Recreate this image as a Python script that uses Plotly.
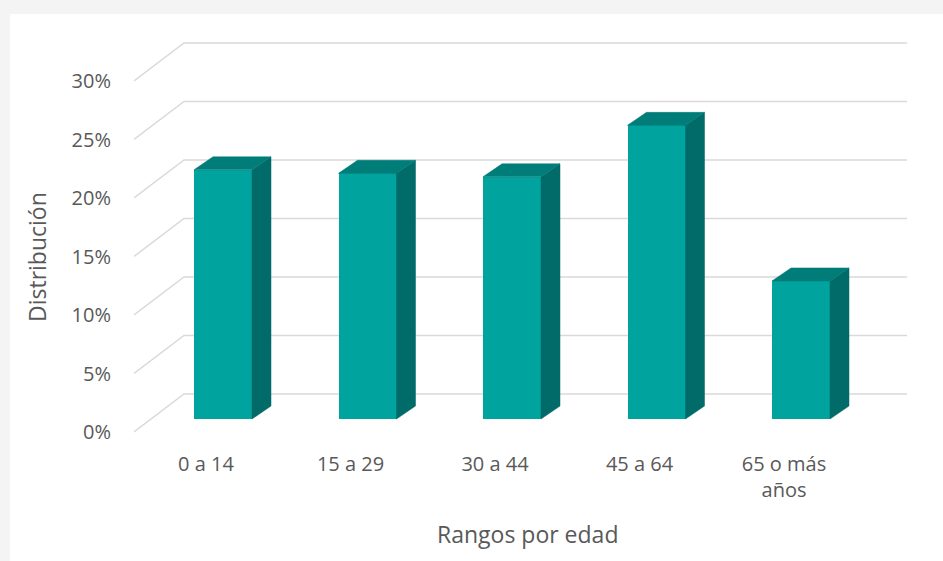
import plotly.graph_objects as go

# ---- data ----
categories = ["0 a 14", "15 a 29", "30 a 44", "45 a 64", "65 o más<br>años"]
values = [21.3, 21.0, 20.7, 25.1, 11.8]          # % distribution
y_ticks = [0, 5, 10, 15, 20, 25, 30]
y_tick_labels = ["0%", "5%", "10%", "15%", "20%", "25%", "30%"]

# ---- pixel calibration of the pseudo-3D layout ----
W, H = 943, 561
PLOT_L, PLOT_R, PLOT_T, PLOT_B = 134, 910, 40, 435
Y0_PX = 432.0            # front-plane 0% level
PX_PER_PCT = 11.7        # pixels per 1 %
X0_PX = 206.0            # front-plane centre of first category
PX_PER_CAT = 144.5       # pixels per category

def px_to_x(px):
    return (px - X0_PX) / PX_PER_CAT

def dxp(px):
    return px / PX_PER_CAT

def dyp(px):
    return px / PX_PER_PCT

x_range = [px_to_x(PLOT_L), px_to_x(PLOT_R)]
y_range = [(Y0_PX - PLOT_B) / PX_PER_PCT, (Y0_PX - PLOT_T) / PX_PER_PCT]

WALL_DX, WALL_DY = dxp(50), dyp(38)      # full floor depth
BAR_DX, BAR_DY = dxp(17), dyp(13)        # bar front plane offset
SIDE_DX, SIDE_DY = dxp(19), dyp(13)      # bar depth
BAR_W = dxp(58)

FRONT = "#00A39E"
SIDE = "#006B68"
TOP = "#007D79"
GRID = "#D9D9D9"
TEXT = "#595959"
FONT = "Open Sans"

fig = go.Figure()

# white chart panel on grey page
shapes = [dict(type="rect", xref="paper", yref="paper", layer="below",
               x0=(10 - PLOT_L) / (PLOT_R - PLOT_L), x1=(W + 5 - PLOT_L) / (PLOT_R - PLOT_L),
               y0=(PLOT_B - H - 5) / (PLOT_B - PLOT_T), y1=(PLOT_B - 14) / (PLOT_B - PLOT_T),
               fillcolor="white", line=dict(width=0))]

# gridlines (floor diagonal + back wall)
x_front = px_to_x(PLOT_L)
x_back = x_front + WALL_DX
x_right = px_to_x(907)
for v in y_ticks:
    shapes.append(dict(type="path", xref="x", yref="y", layer="below",
                       path=f"M {x_front},{v} L {x_back},{v + WALL_DY} L {x_right},{v + WALL_DY}",
                       line=dict(color=GRID, width=1.4)))

# bars (front faces)
xs = list(range(len(categories)))
bar_x = [i + BAR_DX for i in xs]
fig.add_trace(go.Bar(x=bar_x, y=values, base=BAR_DY, width=BAR_W,
                     marker=dict(color=FRONT, line=dict(width=0)),
                     showlegend=False, hoverinfo="skip"))

# side and top faces
for xc, v in zip(bar_x, values):
    xl, xr = xc - BAR_W / 2, xc + BAR_W / 2
    b, t = BAR_DY, BAR_DY + v
    fig.add_trace(go.Scatter(
        x=[xr, xr + SIDE_DX, xr + SIDE_DX, xr, xr],
        y=[b, b + SIDE_DY, t + SIDE_DY, t, b],
        fill="toself", fillcolor=SIDE, line=dict(width=0.5, color=SIDE),
        mode="lines", hoverinfo="skip", showlegend=False))
    fig.add_trace(go.Scatter(
        x=[xl, xl + SIDE_DX, xr + SIDE_DX, xr, xl],
        y=[t, t + SIDE_DY, t + SIDE_DY, t, t],
        fill="toself", fillcolor=TOP, line=dict(width=0.5, color=TOP),
        mode="lines", hoverinfo="skip", showlegend=False))

fig.update_layout(
    width=W, height=H,
    margin=dict(l=PLOT_L, r=W - PLOT_R, t=PLOT_T, b=H - PLOT_B),
    paper_bgcolor="#F4F4F4",
    plot_bgcolor="rgba(0,0,0,0)",
    font=dict(family=FONT, color=TEXT, size=20),
    bargap=0,
    xaxis=dict(range=x_range, tickmode="array", tickvals=xs, ticktext=categories,
               showgrid=False, zeroline=False, showline=False,
               ticks="outside", ticklen=11, tickcolor="rgba(0,0,0,0)",
               tickfont=dict(size=20, color=TEXT, family=FONT), fixedrange=True),
    yaxis=dict(range=y_range, tickmode="array", tickvals=y_ticks, ticktext=y_tick_labels,
               showgrid=False, zeroline=False, showline=False,
               ticks="outside", ticklen=18, tickcolor="rgba(0,0,0,0)",
               tickfont=dict(size=20, color=TEXT, family=FONT), fixedrange=True),
    shapes=shapes,
    annotations=[
        dict(text="Rangos por edad", xref="paper", yref="paper",
             x=(527 - PLOT_L) / (PLOT_R - PLOT_L), y=(PLOT_B - 534) / (PLOT_B - PLOT_T),
             showarrow=False, xanchor="center", yanchor="middle",
             font=dict(size=23, color=TEXT, family=FONT)),
        dict(text="Distribución", xref="paper", yref="paper", textangle=-90,
             x=(37 - PLOT_L) / (PLOT_R - PLOT_L), y=(PLOT_B - 257) / (PLOT_B - PLOT_T),
             showarrow=False, xanchor="center", yanchor="middle",
             font=dict(size=23, color=TEXT, family=FONT)),
    ],
)

fig.write_html("out.html", config={"displayModeBar": False},
               post_script="document.body.style.margin='0';")
